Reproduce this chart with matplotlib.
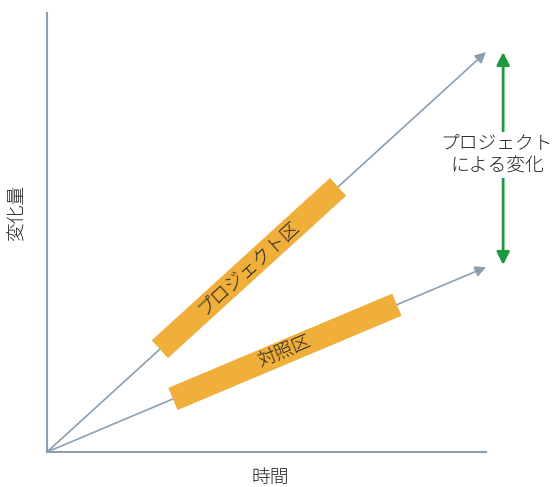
import matplotlib
matplotlib.use("Agg")
import matplotlib.pyplot as plt
import numpy as np

plt.rcParams['font.family'] = ['Noto Sans CJK JP', 'DejaVu Sans']

# data (axis units 0..10)
line_names = ["プロジェクト区", "対照区"]
line_end_x = [10.0, 10.0]
line_end_y = [9.11, 4.21]
bar_start_x = [2.57, 2.87]
bar_end_x = [6.63, 7.97]
diff_x = 10.39
diff_label = "プロジェクト\nによる変化"
xlabel = "時間"
ylabel = "変化量"

axis_col = "#8a9fb2"
bar_col = "#f0ae3a"
green = "#1e9a3c"
text_col = "#222222"
fw = "light"

fig = plt.figure(figsize=(5.6, 4.87), dpi=100)
ax = fig.add_axes([47/560, 35/487, 439/560, 439/487])
ax.set_xlim(0, 10)
ax.set_ylim(0, 10)
for s in ["top", "right"]:
    ax.spines[s].set_visible(False)
for s in ["left", "bottom"]:
    ax.spines[s].set_color(axis_col)
    ax.spines[s].set_linewidth(1.5)
ax.set_xticks([])
ax.set_yticks([])

for name, ex, ey, bx0, bx1 in zip(line_names, line_end_x, line_end_y, bar_start_x, bar_end_x):
    ax.annotate("", xy=(ex, ey), xytext=(0, 0), annotation_clip=False,
                arrowprops=dict(arrowstyle="-|>", color=axis_col, lw=1.2,
                                mutation_scale=16, shrinkA=0, shrinkB=0), zorder=2)
    slope = ey / ex
    xs = np.array([bx0, bx1])
    ys = xs * slope
    ax.plot(xs, ys, color=bar_col, lw=17.3, solid_capstyle="butt", zorder=3)
    p0 = ax.transData.transform((xs[0], ys[0]))
    p1 = ax.transData.transform((xs[1], ys[1]))
    ang = np.degrees(np.arctan2(p1[1] - p0[1], p1[0] - p0[0]))
    ax.text(xs.mean(), ys.mean(), name, rotation=ang, rotation_mode="anchor",
            ha="center", va="center", fontsize=13.5, color=text_col, zorder=4,
            fontweight=fw)

ax.annotate("", xy=(diff_x, line_end_y[0]), xytext=(diff_x, line_end_y[1] + 0.05),
            annotation_clip=False,
            arrowprops=dict(arrowstyle="<|-|>", color=green, lw=2,
                            mutation_scale=19, shrinkA=0, shrinkB=0), zorder=2)
ax.text(10.25, 6.77, diff_label, ha="center", va="center", fontsize=13.5,
        color=text_col, linespacing=1.35, zorder=5, clip_on=False, fontweight=fw,
        bbox=dict(facecolor="white", edgecolor="none", pad=2))

fig.text(18/560, 1 - 213/487, ylabel, rotation=90, ha="center", va="center",
         fontsize=13.5, color=text_col, fontweight=fw)
fig.text(270/560, 1 - 478/487, xlabel, ha="center", va="center",
         fontsize=13.5, color=text_col, fontweight=fw)

fig.savefig("out.png", dpi=100)
